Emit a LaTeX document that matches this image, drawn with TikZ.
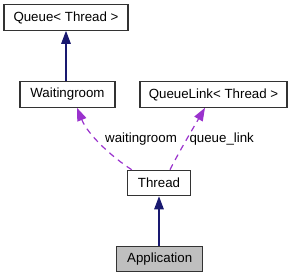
\documentclass[tikz,border=0pt]{standalone}
\usepackage{fontspec}
\setmainfont{Liberation Sans}
\usetikzlibrary{arrows.meta,calc}
\definecolor{navy}{HTML}{191970}
\definecolor{orchid}{HTML}{9A32CD}
\definecolor{appfill}{HTML}{BFBFBF}
\begin{document}
\begin{tikzpicture}[x=1pt,y=-1pt,
  lbl/.style={font=\fontsize{13.3}{15}\selectfont, inner sep=0pt},
  box/.style={lbl, draw=black!80, line width=1.1pt, minimum height=25.5pt, anchor=center},
  inh/.style={draw=navy, line width=1.2pt, -{Triangle[length=13pt,width=9.5pt,fill=navy]}},
  usage/.style={draw=orchid, line width=1.2pt, dash pattern=on 6pt off 5pt, -{Triangle[length=13pt,width=9.5pt,fill=orchid]}}]
\useasboundingbox (0,0) rectangle (292,279);
\node[box, minimum width=124pt] (queue) at (66,17.5) {Queue< Thread >};
\node[box, minimum width=95pt] (wait) at (67.5,94.5) {Waitingroom};
\node[box, minimum width=147pt] (qlink) at (213.5,94.5) {QueueLink< Thread >};
\node[box, minimum width=63.5pt] (thread) at (159,183) {Thread};
\node[box, minimum width=86pt, fill=appfill] (app) at (159.7,259) {Application};
\draw[inh] (wait.north -| queue.south) -- (queue.south);
\draw[inh] (app.north -| thread.south) -- (thread.south);
\draw[usage] ($(thread.north west)+(5,0)$) .. controls (112,157) and (88,135) .. ($(wait.south)+(9.5,0)$);
\draw[usage] ($(thread.north)+(11,0)$) .. controls (180,150) and (195,125) .. ($(qlink.south)+(-8.5,0)$);
\node[lbl] (lw) at (141,139) {waitingroom};
\node[lbl] (lq) at (221.7,139) {queue\_link};
\end{tikzpicture}
\end{document}
